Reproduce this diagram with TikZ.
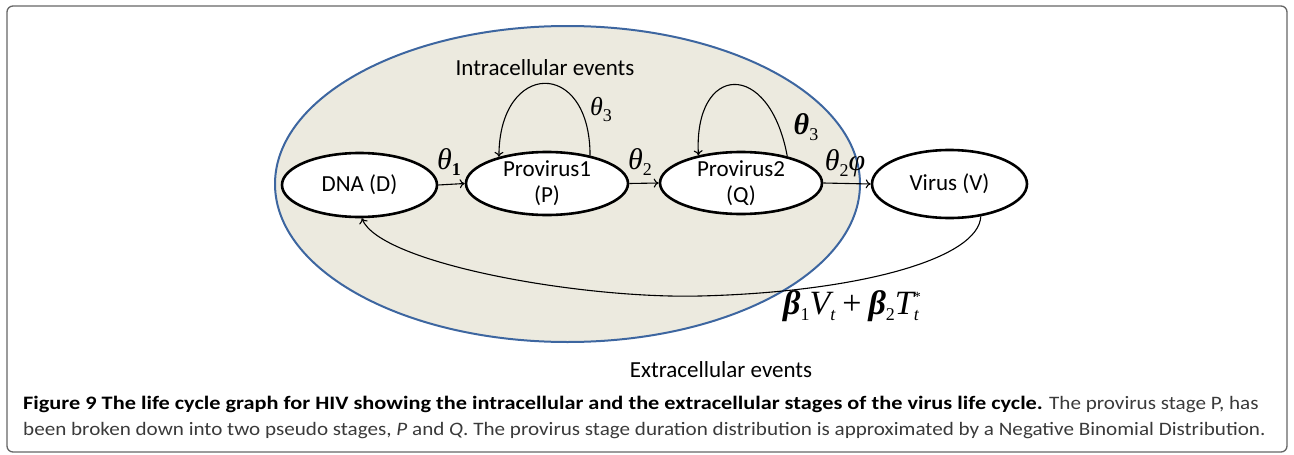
\documentclass[tikz,border=0pt]{standalone}
\usepackage{amsmath}
\usepackage{fontspec}
\setmainfont{Carlito}
\newfontfamily\capfont[FakeStretch=1.111, BoldFeatures={FakeStretch=1.174}]{Carlito}
\newfontfamily\tms{Liberation Serif}
\usetikzlibrary{shapes.geometric,arrows.meta}
\definecolor{cellfill}{HTML}{ECEADF}
\definecolor{cellblue}{HTML}{3D66A0}
\definecolor{framegray}{HTML}{666666}
\definecolor{captext}{HTML}{3A3A3A}
\newcommand\tsub[1]{\raisebox{-6pt}{\fontsize{18}{18}\selectfont #1}}
\newcommand\gth{{\itshape θ}}
\begin{document}
\begin{tikzpicture}[x=1pt,y=-1pt,
  stage/.style={ellipse, draw=black, line width=2.6pt, fill=white, inner sep=0pt},
  stagetext/.style={inner sep=0pt, font=\fontsize{23}{26}\selectfont, align=center},
  conn/.style={line width=1.1pt, -{To[length=5pt,width=9pt]}},
  lab/.style={inner sep=0pt, font=\tms\fontsize{30}{32}\selectfont},
  region/.style={inner sep=0pt, font=\fontsize{23}{26}\selectfont, anchor=base},
  captxt/.style={inner sep=0pt, anchor=base west, font=\capfont\fontsize{19}{22}\selectfont}]
\useasboundingbox (0,0) rectangle (1294,455);
\draw[framegray, line width=1.3pt, rounded corners=6pt] (7,6) rectangle (1287,452);
\node[ellipse, draw=cellblue, fill=cellfill, line width=2pt, minimum width=585pt, minimum height=316pt, inner sep=0pt] (cell) at (567.5,184) {};
\node[region] (intra) at (545,75) {Intracellular events};
\node[region] (extra) at (721,377) {Extracellular events};
\node[stage, minimum width=155pt, minimum height=64pt] (D) at (359.5,185) {};
\node[stage, minimum width=162pt, minimum height=63pt] (P) at (547,183.5) {};
\node[stage, minimum width=162pt, minimum height=62pt] (Q) at (741,183) {};
\node[stage, minimum width=155pt, minimum height=68pt] (V) at (949.5,184) {};
\node[stagetext] (Dt) at (D) {DNA (D)};
\node[stagetext] (Pt) at (P) {Provirus1\\(P)};
\node[stagetext] (Qt) at (Q) {Provirus2\\(Q)};
\node[stagetext] (Vt) at (V) {Virus (V)};
\draw[conn] (D.east) -- (P.west);
\draw[conn] (P.east) -- (Q.west);
\draw[conn] (Q.east) -- (V.west);
\draw[conn] (P.33) .. controls +(0,-98) and +(0,-96) .. (P.151);
\draw[conn] (Q.30) .. controls +(-18,-98) and +(-5,-92) .. (Q.147);
\coordinate (low) at (700,296);
\draw[conn] (V.-46) .. controls +(-2,42) and +(160,-4) .. (low) .. controls +(-120,3) and +(18,45) .. (D.-86);
\node[lab] (t1) at (449,162) {\gth\tsub{\bfseries 1}};
\node[lab] (t2) at (640,162) {\gth\tsub{2}};
\node[lab] (t2p) at (845,163) {\gth\tsub{2}{\itshape φ}};
\node[lab, font=\tms\fontsize{26}{28}\selectfont] (t3a) at (601,109) {\gth\tsub{3}};
\node[lab] (t3b) at (806,127) {{\bfseries\gth}\tsub{3}};
\node[lab, font=\tms\fontsize{34}{36}\selectfont] (beta) at (852,306) {{\bfseries\itshape β}\tsub{1}{\itshape V}\tsub{\itshape t}\hspace{7pt}+\hspace{7pt}{\bfseries\itshape β}\tsub{2}{\itshape T}\tsub{\itshape t}\kern-5pt\raisebox{13pt}{\fontsize{14}{14}\selectfont *}};
\node[captxt] (cap1) at (23,409) {\textbf{Figure 9 The life cycle graph for HIV showing the intracellular and the extracellular stages of the virus life cycle.} {\color{captext}The provirus stage P, has}};
\node[captxt] (cap2) at (23,435) {\color{captext}been broken down into two pseudo stages, \textit{P} and \textit{Q}. The provirus stage duration distribution is approximated by a Negative Binomial Distribution.};
\end{tikzpicture}
\end{document}
